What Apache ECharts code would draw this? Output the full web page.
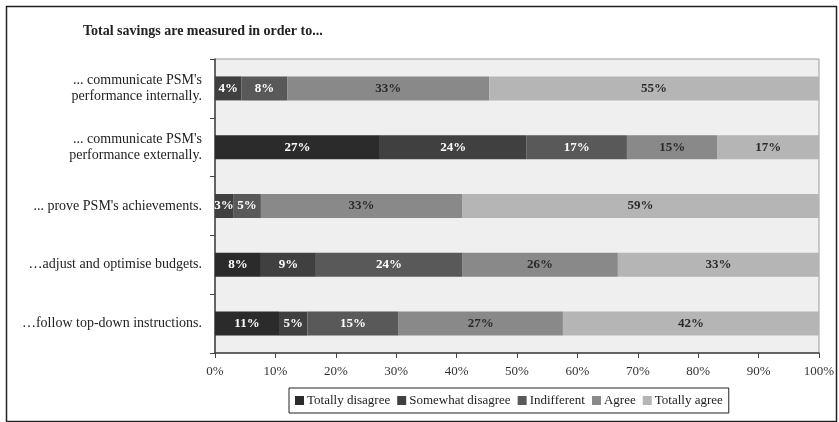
<!DOCTYPE html>
<html>
<head>
<meta charset="utf-8">
<script src="https://cdn.jsdelivr.net/npm/echarts@6/dist/echarts.min.js"></script>
<style>html,body{margin:0;padding:0;background:#fff;}#c{width:839px;height:422px;}</style>
</head>
<body>
<div id="c"></div>
<script>
const titleText = "Total savings are measured in order to...";
const categories = [
  "... communicate PSM's\nperformance internally.",
  "... communicate PSM's\nperformance externally.",
  "... prove PSM's achievements.",
  "…adjust and optimise budgets.",
  "…follow top-down instructions."
];
const seriesNames = ["Totally disagree", "Somewhat disagree", "Indifferent", "Agree", "Totally agree"];
const totallyDisagree = [0, 27.3, 0, 7.6, 10.6];
const somewhatDisagree = [4.4, 24.3, 3.0, 9.1, 4.7];
const indifferent = [7.6, 16.6, 4.6, 24.2, 15.1];
const agree = [33.4, 15.0, 33.3, 25.8, 27.2];
const totallyAgree = [54.6, 16.8, 59.1, 33.3, 42.4];
const xTicks = [0, 10, 20, 30, 40, 50, 60, 70, 80, 90, 100];

const colors = ["#2b2b2b", "#404040", "#595959", "#898989", "#b5b5b5"];
const labelColors = ["#ffffff", "#ffffff", "#ffffff", "#2a2a2a", "#2a2a2a"];
const values = [totallyDisagree, somewhatDisagree, indifferent, agree, totallyAgree];
const serif = "'Liberation Serif', 'DejaVu Serif', serif";

const chart = echarts.init(document.getElementById('c'), null, {renderer: 'canvas'});
chart.setOption({
  animation: false,
  backgroundColor: '#ffffff',
  title: {
    text: titleText, left: 78, top: 19,
    textStyle: {fontFamily: serif, fontSize: 14, fontWeight: 'bold', color: '#222'}
  },
  graphic: [{
    type: 'rect', left: 4, top: 4, silent: true,
    shape: {width: 830, height: 415},
    style: {fill: 'none', stroke: '#222', lineWidth: 1.5}
  }],
  legend: {
    data: seriesNames, left: 289, top: 388,
    orient: 'horizontal',
    icon: 'rect', itemWidth: 9, itemHeight: 9, itemGap: 7,
    padding: [6, 6, 6, 6],
    borderColor: '#222', borderWidth: 1,
    textStyle: {fontFamily: serif, fontSize: 13, color: '#222', padding: [0, 0, 0, -2]}
  },
  grid: {
    left: 215, right: 20, top: 59, bottom: 69,
    show: true, backgroundColor: '#efefef', borderColor: '#9a9a9a', borderWidth: 1
  },
  xAxis: {
    type: 'value', min: 0, max: 100, interval: 10,
    axisLine: {show: true, lineStyle: {color: '#444', width: 1.5}},
    axisTick: {show: true, length: 5, lineStyle: {color: '#444'}},
    splitLine: {show: false},
    axisLabel: {
      margin: 12, fontFamily: serif, fontSize: 13, color: '#333',
      formatter: v => xTicks.includes(v) ? v + '%' : ''
    }
  },
  yAxis: {
    type: 'category', data: categories, inverse: true,
    axisLine: {show: true, lineStyle: {color: '#444', width: 1.5}},
    axisTick: {show: true, length: 5, lineStyle: {color: '#444'}},
    axisLabel: {margin: 13, fontFamily: serif, fontSize: 14, color: '#222', lineHeight: 16, align: 'right'}
  },
  series: seriesNames.map((name, i) => ({
    name: name, type: 'bar', stack: 'total', barWidth: 24,
    data: values[i],
    itemStyle: {color: colors[i]},
    label: {
      show: true, position: 'inside',
      fontFamily: serif, fontSize: 13, fontWeight: 'bold', color: labelColors[i],
      formatter: p => p.value > 0 ? Math.round(p.value) + '%' : ''
    }
  }))
});
</script>
</body>
</html>
